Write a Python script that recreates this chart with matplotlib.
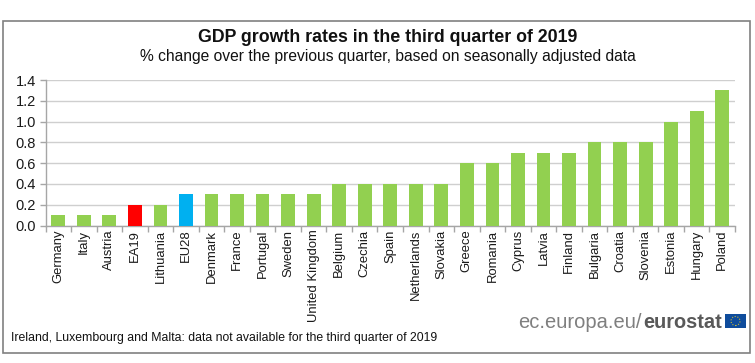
import matplotlib
matplotlib.use("Agg")
import matplotlib.pyplot as plt
from matplotlib.patches import Rectangle, Ellipse
import numpy as np

countries = ["Germany","Italy","Austria","EA19","Lithuania","EU28","Denmark","France","Portugal","Sweden",
             "United Kingdom","Belgium","Czechia","Spain","Netherlands","Slovakia","Greece","Romania","Cyprus",
             "Latvia","Finland","Bulgaria","Croatia","Slovenia","Estonia","Hungary","Poland"]
growth = [0.1,0.1,0.1,0.2,0.2,0.3,0.3,0.3,0.3,0.3,0.3,0.4,0.4,0.4,0.4,0.4,0.6,0.6,0.7,0.7,0.7,0.8,0.8,0.8,1.0,1.1,1.3]
highlight = {"EA19":"#FF0000","EU28":"#00B0F0"}
yticks = [0.0,0.2,0.4,0.6,0.8,1.0,1.2,1.4]

plt.rcParams['font.family'] = ['Liberation Sans','DejaVu Sans']
W,H = 755,363
fig = plt.figure(figsize=(W/100,H/100),dpi=100)
L,R,T,B = 45.5,735,80,225.5
ax = fig.add_axes([L/W,1-B/H,(R-L)/W,(B-T)/H])
x = np.arange(len(countries))
colors = [highlight.get(c,"#92D050") for c in countries]
ax.bar(x,growth,width=0.54,color=colors,zorder=3)
ax.set_xlim(-0.5,len(countries)-0.5)
ax.set_ylim(0,1.4)
ax.set_yticks(yticks)
ax.set_yticklabels([f"{v:.1f}" for v in yticks],fontsize=10.5,color="#1a1a1a")
ax.set_xticks(np.arange(len(countries)+1)-0.5,minor=False)
ax.set_xticklabels([""]*(len(countries)+1))
ax.set_xticks(x,minor=True)
ax.set_xticklabels(countries,minor=True,rotation=90,fontsize=9.4,color="#1a1a1a")
ax.tick_params(axis='x',which='major',length=4,color="#A6A6A6",width=1)
ax.tick_params(axis='x',which='minor',length=0,pad=3)
ax.tick_params(axis='y',length=4,color="#A6A6A6",width=1,pad=3)
ax.grid(axis='y',color="#CFCFCF",lw=1,zorder=0)
ax.set_axisbelow(True)
for s in ['top','right']:
    ax.spines[s].set_visible(False)
for s in ['left','bottom']:
    ax.spines[s].set_color("#A6A6A6")
    ax.spines[s].set_linewidth(1)

fig.text(387.5/W,1-42.5/H,"GDP growth rates in the third quarter of 2019",ha='center',va='baseline',fontsize=12.75,fontweight='bold',color='#111111')
fig.text(388/W,1-61.5/H,"% change over the previous quarter, based on seasonally adjusted data",ha='center',va='baseline',fontsize=11.25,color='#111111')
fig.text(11/W,1-341.5/H,"Ireland, Luxembourg and Malta: data not available for the third quarter of 2019",ha='left',va='baseline',fontsize=8.8,color='#111111')

fig.text(518/W,1-328/H,"ec.europa.eu/",ha='left',va='baseline',fontsize=14.5,color='#7F7F7F')
fig.text(643/W,1-328/H,"eurostat",ha='left',va='baseline',fontsize=14.4,fontweight='bold',color='#595959')
fig.add_artist(Rectangle((725/W,1-328/H),21/W,14/H,transform=fig.transFigure,facecolor='#0F4C9C',edgecolor='none'))
fig.add_artist(Ellipse((735.5/W,1-321/H),9/W,9/H,transform=fig.transFigure,facecolor='none',edgecolor='#C9B93A',lw=0.8,ls=(0,(1,1.5))))

fig.add_artist(Rectangle((2.5/W,1-352.5/H),747/W,331.5/H,transform=fig.transFigure,facecolor='none',edgecolor='#808080',lw=1.2))
fig.savefig("out.png",dpi=100)
